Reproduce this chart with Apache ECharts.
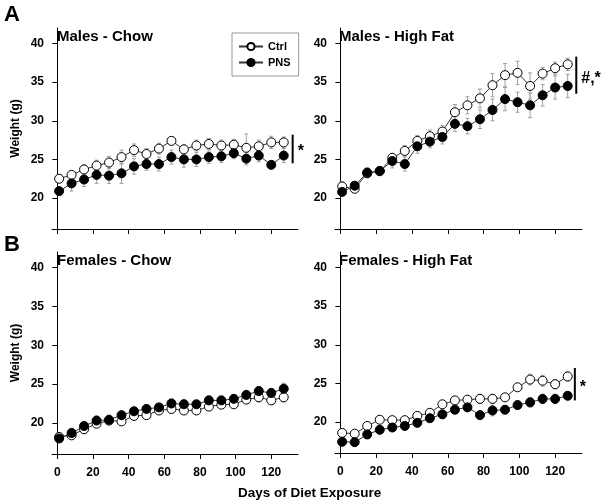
<!DOCTYPE html>
<html>
<head>
<meta charset="utf-8">
<script src="https://cdn.jsdelivr.net/npm/echarts@6/dist/echarts.min.js"></script>
<style>
html,body{margin:0;padding:0;background:#fff;}
#chart{width:604px;height:504px;}
</style>
</head>
<body>
<div id="chart"></div>
<script>
// ---- data ----
const days = [1, 8, 15, 22, 29, 36, 43, 50, 57, 64, 71, 78, 85, 92, 99, 106, 113, 120, 127];
const xTicks = [0, 20, 40, 60, 80, 100, 120];
const yTicks = [20, 25, 30, 35, 40];
const panelTitles = ['Males - Chow', 'Males - High Fat', 'Females - Chow', 'Females - High Fat'];

const mChowCtrl = [22.5, 23.0, 23.7, 24.2, 24.6, 25.3, 26.2, 25.7, 26.4, 27.4, 26.3, 26.8, 27.0, 26.8, 26.9, 26.5, 26.7, 27.2, 27.2];
const mChowCtrlErr = [0.5, 0.5, 0.6, 0.7, 0.8, 0.9, 0.8, 0.7, 0.7, 0.5, 0.6, 0.7, 0.7, 0.7, 0.7, 1.8, 0.8, 0.8, 0.7];
const mChowPNS = [20.9, 21.9, 22.4, 23.0, 22.9, 23.2, 24.1, 24.4, 24.4, 25.3, 25.0, 25.0, 25.3, 25.4, 25.8, 25.1, 25.5, 24.3, 25.5];
const mChowPNSErr = [0.5, 1.0, 0.9, 1.1, 1.0, 1.3, 1.0, 0.8, 0.9, 0.9, 1.0, 0.9, 0.8, 0.8, 0.7, 0.8, 0.8, 0.5, 0.9];

const mHFCtrl = [21.5, 21.2, 23.2, 23.5, 25.2, 26.1, 27.4, 28.0, 28.6, 31.1, 32.0, 32.9, 34.6, 35.9, 36.2, 34.5, 36.1, 36.8, 37.3];
const mHFCtrlErr = [0.6, 0.5, 0.5, 0.5, 0.6, 0.7, 0.7, 0.8, 0.8, 1.0, 1.1, 1.2, 1.5, 1.5, 1.5, 1.7, 0.8, 0.8, 0.8];
const mHFPNS = [20.8, 21.6, 23.3, 23.5, 24.8, 24.4, 26.7, 27.3, 27.9, 29.6, 29.3, 30.2, 31.4, 32.8, 32.4, 32.0, 33.3, 34.3, 34.5];
const mHFPNSErr = [0.5, 0.5, 0.6, 0.6, 0.9, 0.9, 0.9, 0.8, 0.9, 1.0, 1.0, 1.2, 1.4, 1.5, 1.3, 1.6, 1.4, 1.5, 1.5];

const fChowCtrl = [18.2, 18.4, 19.2, 19.9, 20.3, 20.2, 20.9, 21.0, 21.6, 21.8, 21.6, 21.6, 22.1, 22.35, 22.4, 23.0, 23.3, 22.9, 23.3];
const fChowCtrlErr = [0.4, 0.5, 0.6, 0.5, 0.5, 0.4, 0.5, 0.5, 0.5, 0.5, 0.5, 0.5, 0.5, 0.5, 0.4, 0.5, 0.6, 0.5, 0.6];
const fChowPNS = [18.0, 18.7, 19.6, 20.3, 20.4, 21.0, 21.5, 21.8, 22.0, 22.5, 22.4, 22.4, 22.9, 22.9, 23.1, 23.6, 24.1, 23.85, 24.4];
const fChowPNSErr = [0.4, 0.6, 0.6, 0.6, 0.6, 0.5, 0.5, 0.5, 0.5, 0.6, 0.6, 0.5, 0.6, 0.6, 0.5, 0.6, 0.6, 0.6, 0.7];

const fHFCtrl = [18.6, 18.5, 19.5, 20.3, 20.25, 20.25, 20.8, 21.2, 22.3, 22.8, 22.9, 23.0, 23.0, 23.2, 24.5, 25.5, 25.35, 24.9, 25.9];
const fHFCtrlErr = [0.5, 0.4, 0.4, 0.3, 0.3, 0.3, 0.4, 0.4, 0.5, 0.4, 0.5, 0.6, 0.6, 0.5, 0.4, 0.7, 0.7, 0.6, 0.6];
const fHFPNS = [17.45, 17.4, 18.4, 19.0, 19.3, 19.5, 19.9, 20.5, 21.0, 21.6, 21.9, 20.9, 21.5, 21.6, 22.2, 22.55, 23.0, 23.0, 23.4];
const fHFPNSErr = [0.4, 0.5, 0.5, 0.4, 0.4, 0.5, 0.5, 0.5, 0.5, 0.5, 0.5, 0.4, 0.7, 0.5, 0.5, 0.6, 0.6, 0.6, 0.4];

// significance annotations
const sigPanels = [0, 1, 3];
const sigX = [132, 131.8, 131];
const sigLow = [24.5, 33.5, 22.8];
const sigHigh = [28.2, 38.3, 27.0];
const sigText = ['*', '#,*', '*'];

const panelData = [
  [mChowCtrl, mChowCtrlErr, mChowPNS, mChowPNSErr],
  [mHFCtrl, mHFCtrlErr, mHFPNS, mHFPNSErr],
  [fChowCtrl, fChowCtrlErr, fChowPNS, fChowPNSErr],
  [fHFCtrl, fHFCtrlErr, fHFPNS, fHFPNSErr]
];

// ---- layout ----
const FONT = '"Liberation Sans", Arial, sans-serif';
const grids = [
  {left: 52, top: 28, width: 246, height: 201},
  {left: 335, top: 28, width: 247, height: 201},
  {left: 52, top: 252, width: 246, height: 202},
  {left: 335, top: 252, width: 247, height: 201}
];

const chart = echarts.init(document.getElementById('chart'), null, {renderer: 'canvas'});

const xAxes = [], yAxes = [], series = [], titles = [];
grids.forEach((g, i) => {
  const bottomRow = i >= 2;
  xAxes.push({
    type: 'value', gridIndex: i, min: -3, max: 135,
    axisLine: {lineStyle: {color: '#000', width: 1}},
    axisTick: {show: true, length: 5, customValues: xTicks, lineStyle: {color: '#000'}},
    axisLabel: {show: bottomRow, customValues: xTicks, margin: 13, color: '#000',
      fontFamily: FONT, fontWeight: 'bold', fontSize: 12},
    splitLine: {show: false}
  });
  const leftCol = i % 2 === 0;
  yAxes.push({
    type: 'value', gridIndex: i, min: 16, max: 42,
    name: leftCol ? 'Weight (g)' : '',
    nameLocation: 'middle', nameGap: 30, nameRotate: 90,
    nameTextStyle: {fontFamily: FONT, fontWeight: 'bold', fontSize: 12, color: '#000'},
    axisLine: {show: true, lineStyle: {color: '#000', width: 1}},
    axisTick: {show: true, length: 5, customValues: yTicks, lineStyle: {color: '#000'}},
    axisLabel: {customValues: yTicks, margin: 8, color: '#000',
      fontFamily: FONT, fontWeight: 'bold', fontSize: 12},
    splitLine: {show: false}
  });
  titles.push({
    text: panelTitles[i], left: g.left + (leftCol ? 5 : 4), top: g.top + 1,
    textStyle: {fontFamily: FONT, fontWeight: 'bold', fontSize: 15, color: '#000'},
    padding: 0
  });

  const [ctrl, ctrlErr, pns, pnsErr] = panelData[i];
  const mkErr = (vals, errs, name) => ({
    type: 'custom', name: name + '_err', xAxisIndex: i, yAxisIndex: i, z: 1, silent: true,
    data: days.map((d, k) => [d, vals[k] - errs[k], vals[k] + errs[k]]),
    renderItem: (params, api) => {
      const lo = api.coord([api.value(0), api.value(1)]);
      const hi = api.coord([api.value(0), api.value(2)]);
      const cap = 2;
      const st = {stroke: '#a0a0a0', lineWidth: 1};
      return {type: 'group', children: [
        {type: 'line', shape: {x1: lo[0], y1: lo[1], x2: hi[0], y2: hi[1]}, style: st},
        {type: 'line', shape: {x1: lo[0] - cap, y1: lo[1], x2: lo[0] + cap, y2: lo[1]}, style: st},
        {type: 'line', shape: {x1: hi[0] - cap, y1: hi[1], x2: hi[0] + cap, y2: hi[1]}, style: st}
      ]};
    }
  });
  series.push(mkErr(ctrl, ctrlErr, 'Ctrl'));
  series.push(mkErr(pns, pnsErr, 'PNS'));
  series.push({
    type: 'line', name: 'Ctrl', xAxisIndex: i, yAxisIndex: i, z: 3,
    data: days.map((d, k) => [d, ctrl[k]]),
    symbol: 'circle', symbolSize: 9, showAllSymbol: true,
    lineStyle: {color: '#333', width: 1},
    itemStyle: {color: '#fff', borderColor: '#000', borderWidth: 1},
    emphasis: {disabled: true}
  });
  series.push({
    type: 'line', name: 'PNS', xAxisIndex: i, yAxisIndex: i, z: 4,
    data: days.map((d, k) => [d, pns[k]]),
    symbol: 'circle', symbolSize: 9, showAllSymbol: true,
    lineStyle: {color: '#333', width: 1},
    itemStyle: {color: '#000', borderColor: '#000', borderWidth: 1},
    emphasis: {disabled: true}
  });
});

// significance bars
sigPanels.forEach((p, j) => {
  series.push({
    type: 'custom', name: 'sig' + j, xAxisIndex: p, yAxisIndex: p, z: 5, silent: true,
    clip: false,
    data: [[sigX[j], sigLow[j], sigHigh[j]]],
    renderItem: (params, api) => {
      const lo = api.coord([api.value(0), api.value(1)]);
      const hi = api.coord([api.value(0), api.value(2)]);
      return {type: 'group', children: [
        {type: 'line', shape: {x1: lo[0], y1: lo[1], x2: hi[0], y2: hi[1]},
          style: {stroke: '#000', lineWidth: 2}},
        {type: 'text', x: lo[0] + 5, y: (lo[1] + hi[1]) / 2 + 3,
          style: {text: sigText[j], fill: '#000', font: 'bold 16px ' + FONT,
            textAlign: 'left', textVerticalAlign: 'middle'}}
      ]};
    }
  });
});

titles.push({text: 'A', left: 4, top: 4, padding: 0,
  textStyle: {fontFamily: FONT, fontWeight: 'bold', fontSize: 22, color: '#000'}});
titles.push({text: 'B', left: 4, top: 234, padding: 0,
  textStyle: {fontFamily: FONT, fontWeight: 'bold', fontSize: 22, color: '#000'}});
titles.push({text: 'Days of Diet Exposure', left: 238, top: 486, padding: 0,
  textStyle: {fontFamily: FONT, fontWeight: 'bold', fontSize: 13.5, color: '#000'}});

chart.setOption({
  animation: false,
  backgroundColor: '#fff',
  title: titles,
  grid: grids,
  xAxis: xAxes,
  yAxis: yAxes,
  legend: {
    data: ['Ctrl', 'PNS'], orient: 'vertical', left: 232, top: 33,
    padding: [8, 8, 8, 6], itemGap: 5, itemWidth: 24, itemHeight: 9,
    borderColor: '#999', borderWidth: 1, backgroundColor: '#fff',
    textStyle: {fontFamily: FONT, fontWeight: 'bold', fontSize: 11, color: '#000'}
  },
  series: series
});
</script>
</body>
</html>
